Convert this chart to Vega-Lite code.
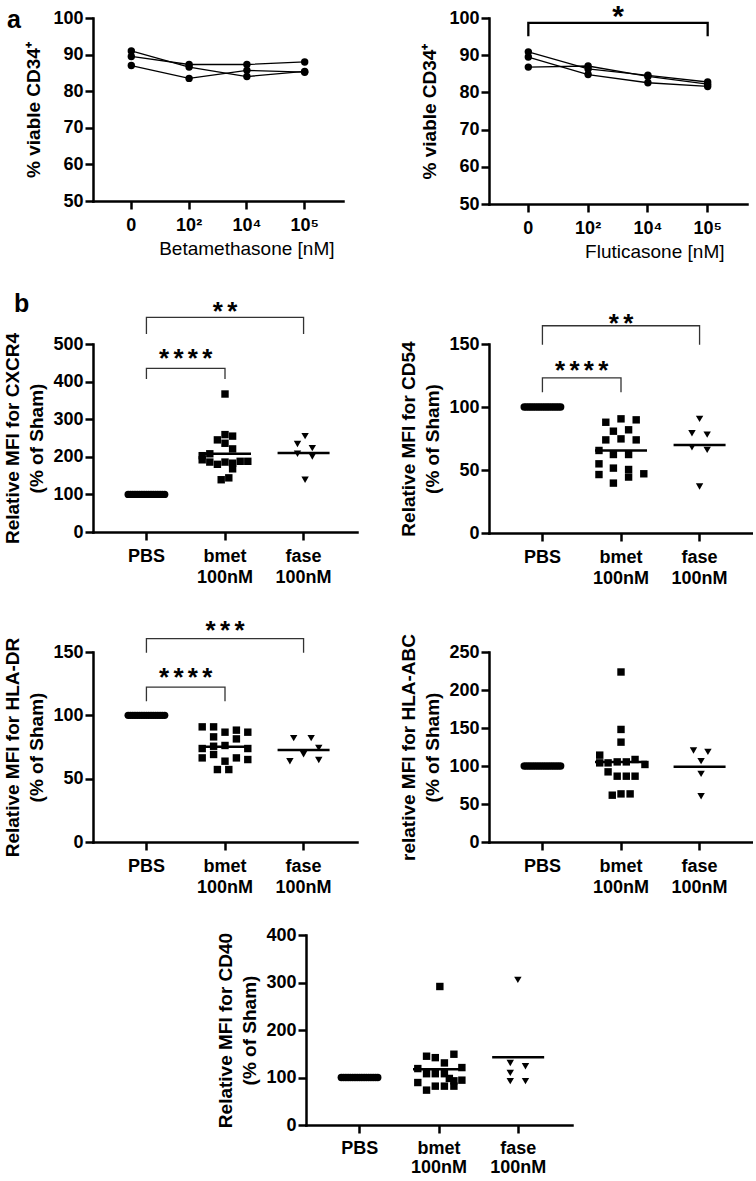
{
"$schema": "https://vega.github.io/schema/vega-lite/v6.json",
"background": "white",
"padding": {"left": 3, "top": 2, "right": 0, "bottom": 0},
"config": {
  "font": "Liberation Sans",
  "view": {"stroke": null},
  "axis": {"domainColor": "black", "domainWidth": 2.5, "domainCap": "square", "tickColor": "black", "tickWidth": 2.5, "tickSize": 8, "labelColor": "black", "labelFont": "Liberation Sans", "labelFontSize": 18, "labelFontWeight": "bold", "titleColor": "black", "titleFont": "Liberation Sans", "titleFontSize": 19, "titleFontWeight": "bold", "grid": false, "labelOverlap": false},
  "axisX": {"labelPadding": 7, "titlePadding": 5, "labelLineHeight": 21},
  "axisY": {"labelPadding": 2, "titlePadding": 6, "titleLineHeight": 24},
  "text": {"font": "Liberation Sans", "color": "black"},
  "title": {"font": "Liberation Sans", "fontSize": 25, "fontWeight": "bold", "color": "black", "anchor": "start", "frame": "bounds", "offset": 0}
},
"datasets": {
  "beta": [
    {"dose":"0","donor":"A","v":89.5},{"dose":"10²","donor":"A","v":87.3},{"dose":"10⁴","donor":"A","v":87.3},{"dose":"10⁵","donor":"A","v":88.0},
    {"dose":"0","donor":"B","v":91.0},{"dose":"10²","donor":"B","v":86.6},{"dose":"10⁴","donor":"B","v":84.0},{"dose":"10⁵","donor":"B","v":85.4},
    {"dose":"0","donor":"C","v":87.0},{"dose":"10²","donor":"C","v":83.5},{"dose":"10⁴","donor":"C","v":85.7},{"dose":"10⁵","donor":"C","v":85.2}
  ],
  "flut": [
    {"dose":"0","donor":"A","v":90.9},{"dose":"10²","donor":"A","v":86.3},{"dose":"10⁴","donor":"A","v":84.6},{"dose":"10⁵","donor":"A","v":82.8},
    {"dose":"0","donor":"B","v":89.5},{"dose":"10²","donor":"B","v":84.8},{"dose":"10⁴","donor":"B","v":82.6},{"dose":"10⁵","donor":"B","v":81.6},
    {"dose":"0","donor":"C","v":86.8},{"dose":"10²","donor":"C","v":87.1},{"dose":"10⁴","donor":"C","v":84.3},{"dose":"10⁵","donor":"C","v":82.2}
  ],
  "a2_br": [{"dose":"0","v":95.1,"o":1},{"dose":"0","v":98.7,"o":2},{"dose":"10⁵","v":98.7,"o":3},{"dose":"10⁵","v":95.1,"o":4}],
  "a2_st": [{"dose":"10²","v":102.3,"t":"*"}],
  "b1": [
    {"g":"PBS","v":100,"s":-2.4},{"g":"PBS","v":100,"s":-2.1},{"g":"PBS","v":100,"s":-1.8},{"g":"PBS","v":100,"s":-1.5},{"g":"PBS","v":100,"s":-1.2},{"g":"PBS","v":100,"s":-0.9},{"g":"PBS","v":100,"s":-0.6},{"g":"PBS","v":100,"s":-0.3},{"g":"PBS","v":100,"s":0},{"g":"PBS","v":100,"s":0.3},{"g":"PBS","v":100,"s":0.6},{"g":"PBS","v":100,"s":0.9},{"g":"PBS","v":100,"s":1.2},{"g":"PBS","v":100,"s":1.5},{"g":"PBS","v":100,"s":1.8},{"g":"PBS","v":100,"s":2.1},{"g":"PBS","v":100,"s":2.4},
    {"g":"bmet 100nM","v":367,"s":0},{"g":"bmet 100nM","v":259,"s":0},{"g":"bmet 100nM","v":255,"s":1},{"g":"bmet 100nM","v":245,"s":-1},{"g":"bmet 100nM","v":236,"s":0},{"g":"bmet 100nM","v":221,"s":1},{"g":"bmet 100nM","v":203,"s":-3},{"g":"bmet 100nM","v":208,"s":-2},{"g":"bmet 100nM","v":192,"s":-3},{"g":"bmet 100nM","v":186,"s":-2},{"g":"bmet 100nM","v":180,"s":-1},{"g":"bmet 100nM","v":186,"s":0},{"g":"bmet 100nM","v":183,"s":1},{"g":"bmet 100nM","v":188,"s":2},{"g":"bmet 100nM","v":188,"s":3},{"g":"bmet 100nM","v":168,"s":1},{"g":"bmet 100nM","v":139,"s":-0.5},{"g":"bmet 100nM","v":144,"s":0.5},
    {"g":"fase 100nM","v":255,"s":0.2},{"g":"fase 100nM","v":234,"s":-0.8},{"g":"fase 100nM","v":223,"s":1.15},{"g":"fase 100nM","v":208,"s":-0.8},{"g":"fase 100nM","v":201,"s":1.15},{"g":"fase 100nM","v":139,"s":0.2}
  ],
  "b1_br": [
    {"br":"a","g":"PBS","v":526.6,"o":1},{"br":"a","g":"PBS","v":571,"o":2},{"br":"a","g":"fase 100nM","v":571,"o":3},{"br":"a","g":"fase 100nM","v":526.6,"o":4},
    {"br":"b","g":"PBS","v":407,"o":1},{"br":"b","g":"PBS","v":435,"o":2},{"br":"b","g":"bmet 100nM","v":435,"o":3},{"br":"b","g":"bmet 100nM","v":407,"o":4}
  ],
  "b1_st": [{"t":"*\u2006*","g":"bmet 100nM","v":604,"p":"c"},{"t":"*\u2006*\u2006*\u2006*","g":"PBS","v":480,"p":"e"}],
  "b2": [
    {"g":"PBS","v":100,"s":-2.4},{"g":"PBS","v":100,"s":-2.1},{"g":"PBS","v":100,"s":-1.8},{"g":"PBS","v":100,"s":-1.5},{"g":"PBS","v":100,"s":-1.2},{"g":"PBS","v":100,"s":-0.9},{"g":"PBS","v":100,"s":-0.6},{"g":"PBS","v":100,"s":-0.3},{"g":"PBS","v":100,"s":0},{"g":"PBS","v":100,"s":0.3},{"g":"PBS","v":100,"s":0.6},{"g":"PBS","v":100,"s":0.9},{"g":"PBS","v":100,"s":1.2},{"g":"PBS","v":100,"s":1.5},{"g":"PBS","v":100,"s":1.8},{"g":"PBS","v":100,"s":2.1},{"g":"PBS","v":100,"s":2.4},
    {"g":"bmet 100nM","v":87.9,"s":-2},{"g":"bmet 100nM","v":90.6,"s":0},{"g":"bmet 100nM","v":89.8,"s":2},{"g":"bmet 100nM","v":80.8,"s":-1},{"g":"bmet 100nM","v":81.9,"s":1},{"g":"bmet 100nM","v":73.9,"s":-2},{"g":"bmet 100nM","v":74.7,"s":0},{"g":"bmet 100nM","v":73.9,"s":2},{"g":"bmet 100nM","v":65.5,"s":-2.9},{"g":"bmet 100nM","v":62.3,"s":-1},{"g":"bmet 100nM","v":62.3,"s":1},{"g":"bmet 100nM","v":54.9,"s":-2.9},{"g":"bmet 100nM","v":46.4,"s":-2.9},{"g":"bmet 100nM","v":51.5,"s":-1},{"g":"bmet 100nM","v":50.4,"s":1},{"g":"bmet 100nM","v":44.4,"s":1},{"g":"bmet 100nM","v":47.0,"s":3},{"g":"bmet 100nM","v":39.6,"s":-1},
    {"g":"fase 100nM","v":90.6,"s":0},{"g":"fase 100nM","v":79.2,"s":-1},{"g":"fase 100nM","v":78.1,"s":1},{"g":"fase 100nM","v":68.1,"s":-1},{"g":"fase 100nM","v":66.0,"s":1},{"g":"fase 100nM","v":36.9,"s":0}
  ],
  "b2_br": [
    {"br":"a","g":"PBS","v":149.4,"o":1},{"br":"a","g":"PBS","v":164.5,"o":2},{"br":"a","g":"fase 100nM","v":164.5,"o":3},{"br":"a","g":"fase 100nM","v":149.4,"o":4},
    {"br":"b","g":"PBS","v":111.7,"o":1},{"br":"b","g":"PBS","v":123.1,"o":2},{"br":"b","g":"bmet 100nM","v":123.1,"o":3},{"br":"b","g":"bmet 100nM","v":111.7,"o":4}
  ],
  "b2_st": [{"t":"*\u2006*","g":"bmet 100nM","v":171.6,"p":"c"},{"t":"*\u2006*\u2006*\u2006*","g":"PBS","v":134.2,"p":"e"}],
  "b3": [
    {"g":"PBS","v":100,"s":-2.4},{"g":"PBS","v":100,"s":-2.1},{"g":"PBS","v":100,"s":-1.8},{"g":"PBS","v":100,"s":-1.5},{"g":"PBS","v":100,"s":-1.2},{"g":"PBS","v":100,"s":-0.9},{"g":"PBS","v":100,"s":-0.6},{"g":"PBS","v":100,"s":-0.3},{"g":"PBS","v":100,"s":0},{"g":"PBS","v":100,"s":0.3},{"g":"PBS","v":100,"s":0.6},{"g":"PBS","v":100,"s":0.9},{"g":"PBS","v":100,"s":1.2},{"g":"PBS","v":100,"s":1.5},{"g":"PBS","v":100,"s":1.8},{"g":"PBS","v":100,"s":2.1},{"g":"PBS","v":100,"s":2.4},
    {"g":"bmet 100nM","v":90.9,"s":-3},{"g":"bmet 100nM","v":90.9,"s":-1.5},{"g":"bmet 100nM","v":86.7,"s":0},{"g":"bmet 100nM","v":88.3,"s":1.5},{"g":"bmet 100nM","v":86.7,"s":3},{"g":"bmet 100nM","v":83.0,"s":-1.5},{"g":"bmet 100nM","v":81.4,"s":1.5},{"g":"bmet 100nM","v":73.8,"s":-3},{"g":"bmet 100nM","v":75.6,"s":-1.5},{"g":"bmet 100nM","v":76.2,"s":0},{"g":"bmet 100nM","v":73.8,"s":3},{"g":"bmet 100nM","v":66.4,"s":-3},{"g":"bmet 100nM","v":69.1,"s":-1.5},{"g":"bmet 100nM","v":66.4,"s":1.5},{"g":"bmet 100nM","v":65.1,"s":3},{"g":"bmet 100nM","v":63.8,"s":0},{"g":"bmet 100nM","v":57.2,"s":-1},{"g":"bmet 100nM","v":57.2,"s":0.5},
    {"g":"fase 100nM","v":82,"s":-1.3},{"g":"fase 100nM","v":82,"s":1},{"g":"fase 100nM","v":74.3,"s":2},{"g":"fase 100nM","v":69.3,"s":0},{"g":"fase 100nM","v":63.8,"s":-1.8},{"g":"fase 100nM","v":64.7,"s":2}
  ],
  "b3_br": [
    {"br":"a","g":"PBS","v":149.4,"o":1},{"br":"a","g":"PBS","v":160.5,"o":2},{"br":"a","g":"fase 100nM","v":160.5,"o":3},{"br":"a","g":"fase 100nM","v":149.4,"o":4},
    {"br":"b","g":"PBS","v":111.2,"o":1},{"br":"b","g":"PBS","v":122.3,"o":2},{"br":"b","g":"bmet 100nM","v":122.3,"o":3},{"br":"b","g":"bmet 100nM","v":111.2,"o":4}
  ],
  "b3_st": [{"t":"*\u2006*\u2006*","g":"bmet 100nM","v":172.3,"p":"c"},{"t":"*\u2006*\u2006*\u2006*","g":"PBS","v":134.9,"p":"e"}],
  "b4": [
    {"g":"PBS","v":100,"s":-2.4},{"g":"PBS","v":100,"s":-2.1},{"g":"PBS","v":100,"s":-1.8},{"g":"PBS","v":100,"s":-1.5},{"g":"PBS","v":100,"s":-1.2},{"g":"PBS","v":100,"s":-0.9},{"g":"PBS","v":100,"s":-0.6},{"g":"PBS","v":100,"s":-0.3},{"g":"PBS","v":100,"s":0},{"g":"PBS","v":100,"s":0.3},{"g":"PBS","v":100,"s":0.6},{"g":"PBS","v":100,"s":0.9},{"g":"PBS","v":100,"s":1.2},{"g":"PBS","v":100,"s":1.5},{"g":"PBS","v":100,"s":1.8},{"g":"PBS","v":100,"s":2.1},{"g":"PBS","v":100,"s":2.4},
    {"g":"bmet 100nM","v":223.7,"s":0},{"g":"bmet 100nM","v":148.1,"s":0},{"g":"bmet 100nM","v":131.4,"s":0},{"g":"bmet 100nM","v":114.3,"s":-2.8},{"g":"bmet 100nM","v":104.1,"s":-2.8},{"g":"bmet 100nM","v":104.1,"s":-1.7},{"g":"bmet 100nM","v":105.4,"s":-0.5},{"g":"bmet 100nM","v":105.4,"s":0.7},{"g":"bmet 100nM","v":108.6,"s":1.85},{"g":"bmet 100nM","v":102.0,"s":3.15},{"g":"bmet 100nM","v":92.3,"s":-1.7},{"g":"bmet 100nM","v":86.6,"s":-0.5},{"g":"bmet 100nM","v":86.6,"s":0.7},{"g":"bmet 100nM","v":86.6,"s":1.85},{"g":"bmet 100nM","v":61.6,"s":-1.15},{"g":"bmet 100nM","v":63.3,"s":0},{"g":"bmet 100nM","v":63.3,"s":1.2},
    {"g":"fase 100nM","v":120.5,"s":-0.8},{"g":"fase 100nM","v":118.6,"s":1.1},{"g":"fase 100nM","v":106.4,"s":0.2},{"g":"fase 100nM","v":89.6,"s":0.2},{"g":"fase 100nM","v":60.2,"s":0.2}
  ],
  "b5": [
    {"g":"PBS","v":100,"s":-2.4},{"g":"PBS","v":100,"s":-2.1},{"g":"PBS","v":100,"s":-1.8},{"g":"PBS","v":100,"s":-1.5},{"g":"PBS","v":100,"s":-1.2},{"g":"PBS","v":100,"s":-0.9},{"g":"PBS","v":100,"s":-0.6},{"g":"PBS","v":100,"s":-0.3},{"g":"PBS","v":100,"s":0},{"g":"PBS","v":100,"s":0.3},{"g":"PBS","v":100,"s":0.6},{"g":"PBS","v":100,"s":0.9},{"g":"PBS","v":100,"s":1.2},{"g":"PBS","v":100,"s":1.5},{"g":"PBS","v":100,"s":1.8},{"g":"PBS","v":100,"s":2.1},{"g":"PBS","v":100,"s":2.4},
    {"g":"bmet 100nM","v":291.6,"s":0.15},{"g":"bmet 100nM","v":144.8,"s":-1.6},{"g":"bmet 100nM","v":141.8,"s":-0.45},{"g":"bmet 100nM","v":130.7,"s":0.75},{"g":"bmet 100nM","v":149.0,"s":2},{"g":"bmet 100nM","v":118.8,"s":-2.75},{"g":"bmet 100nM","v":120.9,"s":3.05},{"g":"bmet 100nM","v":108,"s":-1.6},{"g":"bmet 100nM","v":108,"s":-0.45},{"g":"bmet 100nM","v":108,"s":0.75},{"g":"bmet 100nM","v":89.4,"s":-2.75},{"g":"bmet 100nM","v":93,"s":2},{"g":"bmet 100nM","v":94.4,"s":3.05},{"g":"bmet 100nM","v":98,"s":1.4},{"g":"bmet 100nM","v":81.8,"s":-0.45},{"g":"bmet 100nM","v":81.8,"s":0.75},{"g":"bmet 100nM","v":81.8,"s":2},{"g":"bmet 100nM","v":73.4,"s":-1.6},
    {"g":"fase 100nM","v":305.5,"s":0},{"g":"fase 100nM","v":130.7,"s":-1},{"g":"fase 100nM","v":123.8,"s":1},{"g":"fase 100nM","v":109.7,"s":-1},{"g":"fase 100nM","v":92.3,"s":-1},{"g":"fase 100nM","v":92.3,"s":1}
  ]
},
"spacing": 30,
"vconcat": [
  {
    "columns": 2,
    "align": "each",
    "spacing": {"row": 30, "column": 42},
    "concat": [
      {
        "width": 250, "height": 183,
        "title": {"text": "a", "dx": -18, "dy": 28},
        "data": {"name": "beta"},
        "encoding": {
          "x": {"field": "dose", "type": "nominal", "title": "Betamethasone [nM]", "scale": {"type": "band", "domain": ["0","10²","10⁴","10⁵"], "paddingInner": 0, "paddingOuter": 0.163}, "axis": {"labelAngle": 0, "titleFontWeight": "normal", "titleAnchor": "end", "titleAlign": "right", "titleX": 241}},
          "y": {"field": "v", "type": "quantitative", "title": "% viable CD34⁺", "scale": {"domain": [50, 100], "nice": false, "zero": false}, "axis": {"values": [50,60,70,80,90,100], "titlePadding": 9}}
        },
        "layer": [
          {"mark": {"type": "line", "color": "black", "strokeWidth": 1.3}, "encoding": {"detail": {"field": "donor", "type": "nominal"}}},
          {"mark": {"type": "point", "shape": "circle", "filled": true, "color": "black", "opacity": 1, "size": 55}}
        ]
      },
      {
        "width": 258, "height": 186,
        "encoding": {
          "x": {"field": "dose", "type": "nominal", "title": "Fluticasone [nM]", "scale": {"type": "band", "domain": ["0","10²","10⁴","10⁵"], "paddingInner": 0, "paddingOuter": 0.158}, "axis": {"labelAngle": 0, "titleFontWeight": "normal", "titleAnchor": "end", "titleAlign": "right", "titleX": 235}},
          "y": {"field": "v", "type": "quantitative", "title": "% viable CD34⁺", "scale": {"domain": [50, 100], "nice": false, "zero": false}, "axis": {"values": [50,60,70,80,90,100], "titlePadding": 9}}
        },
        "layer": [
          {"data": {"name": "flut"}, "mark": {"type": "line", "color": "black", "strokeWidth": 1.3}, "encoding": {"detail": {"field": "donor", "type": "nominal"}}},
          {"data": {"name": "flut"}, "mark": {"type": "point", "shape": "circle", "filled": true, "color": "black", "opacity": 1, "size": 55}},
          {"data": {"name": "a2_br"}, "mark": {"type": "line", "color": "black", "strokeWidth": 2.3}, "encoding": {"order": {"field": "o", "type": "quantitative"}}},
          {"data": {"name": "a2_st"}, "mark": {"type": "text", "fontSize": 30, "fontWeight": "bold", "baseline": "alphabetic", "dy": 17}, "encoding": {"x": {"field": "dose", "type": "nominal", "title": "Fluticasone [nM]", "bandPosition": 1}, "text": {"field": "t", "type": "nominal"}}}
        ]
      },
      {
        "width": 264, "height": 188,
        "title": {"text": "b", "dx": 10, "dy": 22},
        "encoding": {
          "x": {"field": "g", "type": "nominal", "title": null, "scale": {"type": "band", "domain": ["PBS","bmet 100nM","fase 100nM"], "paddingInner": 0, "paddingOuter": 0.18}, "axis": {"labelAngle": 0, "labelExpr": "split(datum.label, ' ')"}},
          "y": {"field": "v", "type": "quantitative", "title": ["Relative MFI for CXCR4", "(% of Sham)"], "scale": {"domain": [0, 500], "nice": false}, "axis": {"values": [0,100,200,300,400,500]}}
        },
        "layer": [
          {"data": {"name": "b1"}, "transform": [{"filter": "datum.g != 'PBS'"}], "mark": {"type": "tick", "orient": "horizontal", "size": 52, "thickness": 2.5, "color": "black", "opacity": 1}, "encoding": {"y": {"aggregate": "mean", "field": "v", "type": "quantitative", "title": ["Relative MFI for CXCR4", "(% of Sham)"]}}},
          {"data": {"name": "b1"}, "mark": {"type": "point", "filled": true, "color": "black", "opacity": 1, "size": 55}, "encoding": {"xOffset": {"field": "s", "type": "quantitative", "scale": {"domain": [-5.17, 5.17]}}, "shape": {"field": "g", "type": "nominal", "scale": {"domain": ["PBS","bmet 100nM","fase 100nM"], "range": ["circle","square","triangle-down"]}, "legend": null}}},
          {"data": {"name": "b1_br"}, "mark": {"type": "line", "color": "#333333", "strokeWidth": 1.3}, "encoding": {"detail": {"field": "br", "type": "nominal"}, "order": {"field": "o", "type": "quantitative"}}},
          {"data": {"name": "b1_st"}, "transform": [{"filter": "datum.p == 'c'"}], "mark": {"type": "text", "fontSize": 26, "fontWeight": "bold", "baseline": "alphabetic", "dy": 15}, "encoding": {"text": {"field": "t", "type": "nominal"}}},
          {"data": {"name": "b1_st"}, "transform": [{"filter": "datum.p == 'e'"}], "mark": {"type": "text", "fontSize": 26, "fontWeight": "bold", "baseline": "alphabetic", "dy": 15}, "encoding": {"x": {"field": "g", "type": "nominal", "title": null, "bandPosition": 1}, "text": {"field": "t", "type": "nominal"}}}
        ]
      },
      {
        "width": 264, "height": 189,
        "encoding": {
          "x": {"field": "g", "type": "nominal", "title": null, "scale": {"type": "band", "domain": ["PBS","bmet 100nM","fase 100nM"], "paddingInner": 0, "paddingOuter": 0.18}, "axis": {"labelAngle": 0, "labelExpr": "split(datum.label, ' ')"}},
          "y": {"field": "v", "type": "quantitative", "title": ["Relative MFI for CD54", "(% of Sham)"], "scale": {"domain": [0, 150], "nice": false}, "axis": {"values": [0,50,100,150]}}
        },
        "layer": [
          {"data": {"name": "b2"}, "transform": [{"filter": "datum.g != 'PBS'"}], "mark": {"type": "tick", "orient": "horizontal", "size": 52, "thickness": 2.5, "color": "black", "opacity": 1}, "encoding": {"y": {"aggregate": "mean", "field": "v", "type": "quantitative", "title": ["Relative MFI for CD54", "(% of Sham)"]}}},
          {"data": {"name": "b2"}, "mark": {"type": "point", "filled": true, "color": "black", "opacity": 1, "size": 55}, "encoding": {"xOffset": {"field": "s", "type": "quantitative", "scale": {"domain": [-5.17, 5.17]}}, "shape": {"field": "g", "type": "nominal", "scale": {"domain": ["PBS","bmet 100nM","fase 100nM"], "range": ["circle","square","triangle-down"]}, "legend": null}}},
          {"data": {"name": "b2_br"}, "mark": {"type": "line", "color": "#333333", "strokeWidth": 1.3}, "encoding": {"detail": {"field": "br", "type": "nominal"}, "order": {"field": "o", "type": "quantitative"}}},
          {"data": {"name": "b2_st"}, "transform": [{"filter": "datum.p == 'c'"}], "mark": {"type": "text", "fontSize": 26, "fontWeight": "bold", "baseline": "alphabetic", "dy": 15}, "encoding": {"text": {"field": "t", "type": "nominal"}}},
          {"data": {"name": "b2_st"}, "transform": [{"filter": "datum.p == 'e'"}], "mark": {"type": "text", "fontSize": 26, "fontWeight": "bold", "baseline": "alphabetic", "dy": 15}, "encoding": {"x": {"field": "g", "type": "nominal", "title": null, "bandPosition": 1}, "text": {"field": "t", "type": "nominal"}}}
        ]
      },
      {
        "width": 264, "height": 190,
        "encoding": {
          "x": {"field": "g", "type": "nominal", "title": null, "scale": {"type": "band", "domain": ["PBS","bmet 100nM","fase 100nM"], "paddingInner": 0, "paddingOuter": 0.18}, "axis": {"labelAngle": 0, "labelExpr": "split(datum.label, ' ')"}},
          "y": {"field": "v", "type": "quantitative", "title": ["Relative MFI for HLA-DR", "(% of Sham)"], "scale": {"domain": [0, 150], "nice": false}, "axis": {"values": [0,50,100,150]}}
        },
        "layer": [
          {"data": {"name": "b3"}, "transform": [{"filter": "datum.g != 'PBS'"}], "mark": {"type": "tick", "orient": "horizontal", "size": 52, "thickness": 2.5, "color": "black", "opacity": 1}, "encoding": {"y": {"aggregate": "mean", "field": "v", "type": "quantitative", "title": ["Relative MFI for HLA-DR", "(% of Sham)"]}}},
          {"data": {"name": "b3"}, "mark": {"type": "point", "filled": true, "color": "black", "opacity": 1, "size": 55}, "encoding": {"xOffset": {"field": "s", "type": "quantitative", "scale": {"domain": [-5.17, 5.17]}}, "shape": {"field": "g", "type": "nominal", "scale": {"domain": ["PBS","bmet 100nM","fase 100nM"], "range": ["circle","square","triangle-down"]}, "legend": null}}},
          {"data": {"name": "b3_br"}, "mark": {"type": "line", "color": "#333333", "strokeWidth": 1.3}, "encoding": {"detail": {"field": "br", "type": "nominal"}, "order": {"field": "o", "type": "quantitative"}}},
          {"data": {"name": "b3_st"}, "transform": [{"filter": "datum.p == 'c'"}], "mark": {"type": "text", "fontSize": 26, "fontWeight": "bold", "baseline": "alphabetic", "dy": 15}, "encoding": {"text": {"field": "t", "type": "nominal"}}},
          {"data": {"name": "b3_st"}, "transform": [{"filter": "datum.p == 'e'"}], "mark": {"type": "text", "fontSize": 26, "fontWeight": "bold", "baseline": "alphabetic", "dy": 15}, "encoding": {"x": {"field": "g", "type": "nominal", "title": null, "bandPosition": 1}, "text": {"field": "t", "type": "nominal"}}}
        ]
      },
      {
        "width": 264, "height": 190,
        "encoding": {
          "x": {"field": "g", "type": "nominal", "title": null, "scale": {"type": "band", "domain": ["PBS","bmet 100nM","fase 100nM"], "paddingInner": 0, "paddingOuter": 0.18}, "axis": {"labelAngle": 0, "labelExpr": "split(datum.label, ' ')"}},
          "y": {"field": "v", "type": "quantitative", "title": ["relative MFI for HLA-ABC", "(% of Sham)"], "scale": {"domain": [0, 250], "nice": false}, "axis": {"values": [0,50,100,150,200,250]}}
        },
        "layer": [
          {"data": {"name": "b4"}, "transform": [{"filter": "datum.g != 'PBS'"}], "mark": {"type": "tick", "orient": "horizontal", "size": 52, "thickness": 2.5, "color": "black", "opacity": 1}, "encoding": {"y": {"aggregate": "mean", "field": "v", "type": "quantitative", "title": ["relative MFI for HLA-ABC", "(% of Sham)"]}}},
          {"data": {"name": "b4"}, "mark": {"type": "point", "filled": true, "color": "black", "opacity": 1, "size": 55}, "encoding": {"xOffset": {"field": "s", "type": "quantitative", "scale": {"domain": [-5.17, 5.17]}}, "shape": {"field": "g", "type": "nominal", "scale": {"domain": ["PBS","bmet 100nM","fase 100nM"], "range": ["circle","square","triangle-down"]}, "legend": null}}}
        ]
      }
    ]
  },
  {
    "spacing": 122,
    "hconcat": [
      {"width": 1, "height": 1, "data": {"values": []}, "mark": {"type": "point", "opacity": 0}},
      {
        "width": 266, "height": 190,
        "data": {"name": "b5"},
        "encoding": {
          "x": {"field": "g", "type": "nominal", "title": null, "scale": {"type": "band", "domain": ["PBS","bmet 100nM","fase 100nM"], "paddingInner": 0, "paddingOuter": 0.18}, "axis": {"labelAngle": 0, "labelExpr": "split(datum.label, ' ')", "labelPadding": 6, "labelLineHeight": 19}},
          "y": {"field": "v", "type": "quantitative", "title": ["Relative MFI for CD40", "(% of Sham)"], "scale": {"domain": [0, 400], "nice": false}, "axis": {"values": [0,100,200,300,400]}}
        },
        "layer": [
          {"transform": [{"filter": "datum.g != 'PBS'"}], "mark": {"type": "tick", "orient": "horizontal", "size": 52, "thickness": 2.5, "color": "black", "opacity": 1}, "encoding": {"y": {"aggregate": "mean", "field": "v", "type": "quantitative", "title": ["Relative MFI for CD40", "(% of Sham)"]}}},
          {"mark": {"type": "point", "filled": true, "color": "black", "opacity": 1, "size": 55}, "encoding": {"xOffset": {"field": "s", "type": "quantitative", "scale": {"domain": [-5.17, 5.17]}}, "shape": {"field": "g", "type": "nominal", "scale": {"domain": ["PBS","bmet 100nM","fase 100nM"], "range": ["circle","square","triangle-down"]}, "legend": null}}}
        ]
      }
    ]
  }
]
}
